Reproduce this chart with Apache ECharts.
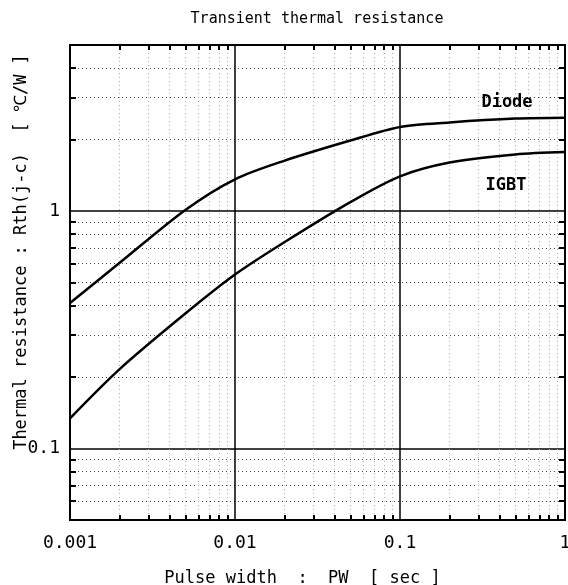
<!DOCTYPE html>
<html>
<head>
<meta charset="utf-8">
<script src="https://cdn.jsdelivr.net/npm/echarts@6/dist/echarts.min.js"></script>
<style>
  html, body { margin: 0; padding: 0; background: #fff; }
  #main { width: 568px; height: 585px; }
</style>
</head>
<body>
<div id="main"></div>
<script>
// data
var pulseWidth = [0.001, 0.002, 0.005, 0.01, 0.02, 0.05, 0.1, 0.2, 0.5, 1];
var diodeRth   = [0.41, 0.605, 1.01, 1.36, 1.63, 1.98, 2.26, 2.36, 2.45, 2.47];
var igbtRth    = [0.134, 0.216, 0.37, 0.54, 0.74, 1.09, 1.40, 1.60, 1.73, 1.77];

// minor grid / tick values
var xMinor = [0.002, 0.003, 0.004, 0.005, 0.006, 0.007, 0.008, 0.009,
              0.02, 0.03, 0.04, 0.05, 0.06, 0.07, 0.08, 0.09,
              0.2, 0.3, 0.4, 0.5, 0.6, 0.7, 0.8, 0.9];
var yMinor = [0.06, 0.07, 0.08, 0.09,
              0.2, 0.3, 0.4, 0.5, 0.6, 0.7, 0.8, 0.9,
              2, 3, 4];
var xLabels = [0.001, 0.01, 0.1, 1];
var yLabels = [0.1, 1];

var font = '"DejaVu Sans Mono", "Liberation Mono", monospace';

function pairs(xs, ys) {
    return xs.map(function(x, i) { return [x, ys[i]]; });
}

var chart = echarts.init(document.getElementById('main'));

var minorAxisX = function(pos) {
    return {
        type: 'log', logBase: 10, min: 0.001, max: 1, position: pos, gridIndex: 0,
        axisLine: { show: true, lineStyle: { color: '#000', width: 2 } },
        axisTick: { show: true, inside: true, length: 5, customValues: xMinor, lineStyle: { color: '#000', width: 2 } },
        axisLabel: { show: false },
        splitLine: { show: pos === 'bottom', lineStyle: { color: '#aaa', type: [1, 3], width: 1 } }
    };
};
var minorAxisY = function(pos) {
    return {
        type: 'log', logBase: 10, min: 0.05, max: 5, position: pos, gridIndex: 0,
        axisLine: { show: true, lineStyle: { color: '#000', width: 2 } },
        axisTick: { show: true, inside: true, length: 6, customValues: yMinor, lineStyle: { color: '#000', width: 2 } },
        axisLabel: { show: false },
        splitLine: { show: pos === 'left', lineStyle: { color: '#444', type: [1, 3], width: 1 } }
    };
};

chart.setOption({
    animation: false,
    backgroundColor: '#fff',
    title: {
        text: 'Transient thermal resistance',
        left: 312, top: 7, textAlign: 'center',
        textStyle: { fontFamily: font, fontSize: 15, fontWeight: 'normal', color: '#000' }
    },
    grid: { left: 70, right: 3, top: 45, bottom: 65, outerBoundsMode: 'none', containLabel: false },
    xAxis: [
        {
            type: 'log', logBase: 10, min: 0.001, max: 1, position: 'bottom',
            name: 'Pulse width  :  PW  [ sec ]', nameLocation: 'middle', nameGap: 50,
            nameTextStyle: { fontFamily: font, fontSize: 17, color: '#000', padding: [0, 30, 0, 0] },
            axisLine: { show: true, lineStyle: { color: '#000', width: 2 } },
            axisTick: { show: false },
            axisLabel: {
                fontFamily: font, fontSize: 18, color: '#000', margin: 14,
                customValues: xLabels,
                formatter: function(v) { return String(+v.toPrecision(3)); }
            },
            splitLine: { show: true, lineStyle: { color: '#000', width: 1.5 } }
        },
        minorAxisX('bottom'),
        minorAxisX('top')
    ],
    yAxis: [
        {
            type: 'log', logBase: 10, min: 0.05, max: 5, position: 'left',
            axisLine: { show: true, lineStyle: { color: '#000', width: 2 } },
            axisTick: { show: false },
            axisLabel: {
                fontFamily: font, fontSize: 18, color: '#000', margin: 10,
                customValues: yLabels,
                formatter: function(v) { return String(+v.toPrecision(3)); }
            },
            splitLine: { show: true, lineStyle: { color: '#000', width: 1.5 } }
        },
        minorAxisY('left'),
        minorAxisY('right')
    ],
    graphic: [
        {
            type: 'text', x: 22, y: 252, rotation: Math.PI / 2,
            style: {
                text: 'Thermal resistance : Rth(j-c)  [ ℃/W ]',
                font: '17px ' + font, fill: '#000',
                align: 'center', verticalAlign: 'middle'
            }
        },
        {
            type: 'text', x: 507, y: 103,
            style: { text: 'Diode', font: 'bold 17px ' + font, fill: '#000', align: 'center', verticalAlign: 'middle' }
        },
        {
            type: 'text', x: 506, y: 186,
            style: { text: 'IGBT', font: 'bold 17px ' + font, fill: '#000', align: 'center', verticalAlign: 'middle' }
        }
    ],
    series: [
        {
            name: 'Diode', type: 'line', xAxisIndex: 0, yAxisIndex: 0,
            data: pairs(pulseWidth, diodeRth), smooth: 0.3, showSymbol: false,
            lineStyle: { color: '#000', width: 2.5 }, z: 5
        },
        {
            name: 'IGBT', type: 'line', xAxisIndex: 0, yAxisIndex: 0,
            data: pairs(pulseWidth, igbtRth), smooth: 0.3, showSymbol: false,
            lineStyle: { color: '#000', width: 2.5 }, z: 5
        }
    ]
});
</script>
</body>
</html>
